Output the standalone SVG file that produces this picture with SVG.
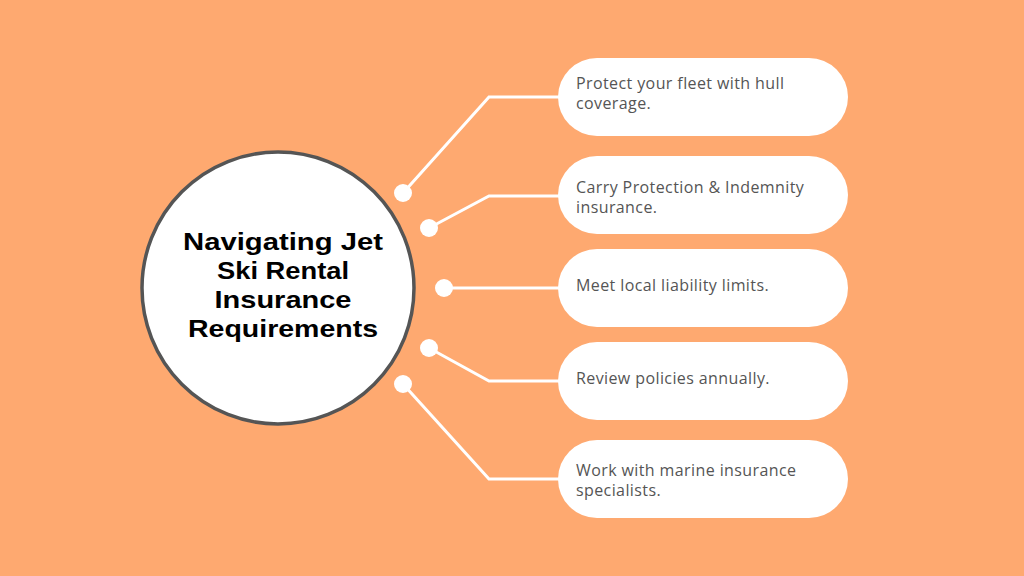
<svg xmlns="http://www.w3.org/2000/svg" width="1024" height="576" viewBox="0 0 1024 576">
<style>
.pill{fill:#ffffff}
.lbl{font-family:"Open Sans","Liberation Sans",sans-serif;font-size:16px;letter-spacing:0.4px;fill:#555555}
.title{font-family:"Liberation Sans",Arial,sans-serif;font-size:24px;font-weight:700;fill:#000000;text-anchor:middle}
.conn{fill:none;stroke:#ffffff;stroke-width:3}
.dot{fill:#ffffff}
</style>
<rect width="1024" height="576" fill="#FEA970"/>
<g id="connectors">
<polyline class="conn" points="403,193 489,97 560,97"/>
<polyline class="conn" points="429,228 489,196 560,196"/>
<polyline class="conn" points="444,288 560,288"/>
<polyline class="conn" points="429,348 489,381 560,381"/>
<polyline class="conn" points="403,384 489,479 560,479"/>
<circle class="dot" cx="403" cy="193" r="9"/>
<circle class="dot" cx="429" cy="228" r="9"/>
<circle class="dot" cx="444" cy="288" r="9"/>
<circle class="dot" cx="429" cy="348" r="9"/>
<circle class="dot" cx="403" cy="384" r="9"/>
</g>
<g id="center">
<circle cx="278" cy="288" r="136" fill="#ffffff" stroke="#555555" stroke-width="3.5"/>
<text class="title" x="283" y="250" textLength="200" lengthAdjust="spacingAndGlyphs">Navigating Jet</text>
<text class="title" x="283" y="279" textLength="132" lengthAdjust="spacingAndGlyphs">Ski Rental</text>
<text class="title" x="283" y="308" textLength="137" lengthAdjust="spacingAndGlyphs">Insurance</text>
<text class="title" x="283" y="337" textLength="190" lengthAdjust="spacingAndGlyphs">Requirements</text>
</g>
<g id="node1">
<rect class="pill" x="558" y="58" width="290" height="78" rx="39"/>
<text class="lbl" x="576" y="89">Protect your fleet with hull</text>
<text class="lbl" x="576" y="109">coverage.</text>
</g>
<g id="node2">
<rect class="pill" x="558" y="156" width="290" height="78" rx="39"/>
<text class="lbl" x="576" y="193">Carry Protection &amp; Indemnity</text>
<text class="lbl" x="576" y="213">insurance.</text>
</g>
<g id="node3">
<rect class="pill" x="558" y="249" width="290" height="78" rx="39"/>
<text class="lbl" x="576" y="291">Meet local liability limits.</text>
</g>
<g id="node4">
<rect class="pill" x="558" y="342" width="290" height="78" rx="39"/>
<text class="lbl" x="576" y="384">Review policies annually.</text>
</g>
<g id="node5">
<rect class="pill" x="558" y="440" width="290" height="78" rx="39"/>
<text class="lbl" x="576" y="476">Work with marine insurance</text>
<text class="lbl" x="576" y="496">specialists.</text>
</g>
</svg>
